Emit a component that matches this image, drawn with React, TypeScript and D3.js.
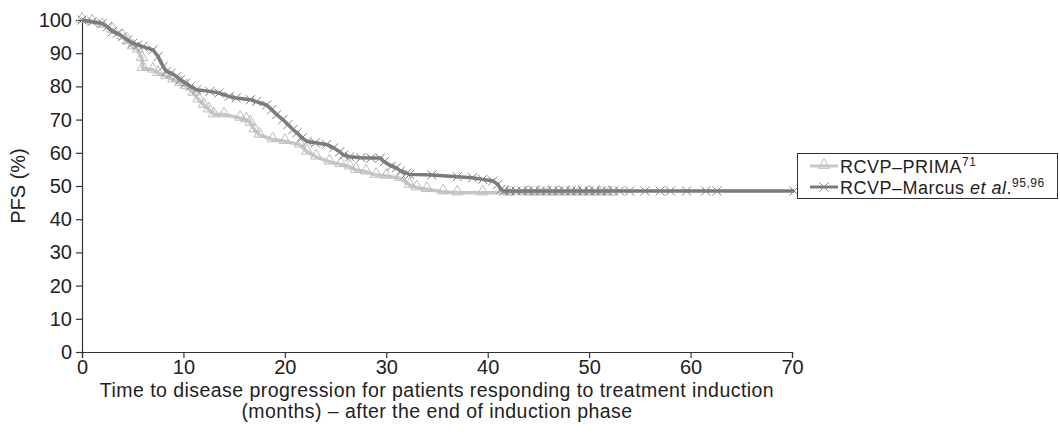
import React, { useEffect, useRef } from 'react';
import * as d3 from 'd3';

// RCVP-PRIMA curve: [month, PFS %]
const primaPoints: [number, number][] = [
  [0, 100], [1, 99.5], [2, 98.5], [3, 97], [4, 95], [4.5, 93.5], [5, 92], [5.5, 91],
  [5.9, 88.5], [6, 85.5], [7, 85], [7.5, 84], [8.3, 83], [9, 82], [9.7, 81], [10.3, 80],
  [11, 78], [11.5, 76], [12, 74.4], [12.5, 73], [13, 71.5], [14, 71.5], [15.6, 70.5],
  [16.2, 70], [16.6, 69], [17, 67], [17.5, 65.4], [18.8, 64], [20, 63.5], [21.5, 62.4],
  [22.2, 60.3], [23.1, 58.8], [24.4, 57.3], [25.5, 56.5], [26.4, 55.8], [27, 54.8],
  [28, 54.3], [29, 53.3], [30, 53], [31.4, 52.3], [32.3, 50.3], [33, 49.5], [34, 49],
  [35.6, 48.3], [37, 48], [39.5, 48], [42, 48], [44, 48], [45, 48], [46, 48], [47, 48],
  [48, 48], [49, 48], [50, 48], [51, 48], [52, 48],
];

// RCVP-Marcus et al. curve: [month, PFS %]
const marcusPoints: [number, number][] = [
  [0, 100], [1, 99.5], [2, 99], [2.5, 98], [3, 96.5], [3.5, 96], [4, 95], [4.5, 94],
  [5, 93], [5.5, 92.5], [6, 92], [7, 91], [7.5, 89], [8, 86], [8.3, 84.5], [8.8, 84],
  [9.3, 83], [9.7, 82], [10.2, 81], [10.7, 80], [11.3, 79], [12.6, 78.5], [13.5, 78],
  [14.5, 77], [15.2, 76.5], [16.6, 76], [17.2, 75.4], [18.2, 74.4], [18.7, 73],
  [19.2, 71.5], [19.8, 70], [20.3, 68.5], [20.8, 67], [21.2, 66], [21.7, 64.5],
  [22.2, 63.4], [23, 63], [24.1, 62.5], [24.8, 61.5], [25.4, 60.3], [25.8, 59.3],
  [26.4, 58.8], [27.5, 58.5], [28.5, 58.4], [29.4, 58.4], [29.8, 57.3], [30.5, 56],
  [31, 55.5], [31.4, 54.5], [32, 53.8], [32.3, 53.5], [34.5, 53.3], [37, 52.8],
  [38.5, 52.5], [39.5, 52], [40.5, 51.5], [41, 50.5], [41.3, 49], [41.6, 48.5],
  [42.2, 48.5], [42.8, 48.5], [43.4, 48.5], [44, 48.5], [44.6, 48.5], [45.2, 48.5],
  [45.8, 48.5], [46.4, 48.5], [47, 48.5], [47.6, 48.5], [48.2, 48.5], [48.8, 48.5],
  [49.4, 48.5], [50, 48.5], [50.6, 48.5], [51.2, 48.5], [51.8, 48.5], [52.4, 48.5],
  [53, 48.5], [54, 48.5], [55.5, 48.5], [57, 48.5], [58, 48.5], [59.6, 48.5],
  [61.5, 48.5], [62.6, 48.5], [70.2, 48.5],
];

const xTicks = [0, 10, 20, 30, 40, 50, 60, 70];
const yTicks = [0, 10, 20, 30, 40, 50, 60, 70, 80, 90, 100];

const FONT = '"Liberation Sans", Arial, sans-serif';
const FS = '20px';

const App: React.FC = () => {
  const svgRef = useRef<SVGSVGElement | null>(null);

  useEffect(() => {
    const svg = d3.select(svgRef.current);
    svg.selectAll('*').remove();

    const x = d3.scaleLinear().domain([0, 70]).range([82, 792]);
    const y = d3.scaleLinear().domain([0, 100]).range([352, 20]);

    const axisColor = '#333';

    // y axis
    const yAxis = svg.append('g').attr('transform', `translate(${x(0)},0)`)
      .call(d3.axisLeft(y).tickValues(yTicks).tickSize(6).tickPadding(4));
    // x axis
    const xAxis = svg.append('g').attr('transform', `translate(0,${y(0)})`)
      .call(d3.axisBottom(x).tickValues(xTicks).tickSize(6).tickPadding(2));

    [yAxis, xAxis].forEach(g => {
      g.select('.domain').attr('stroke', axisColor).attr('stroke-width', 1.2);
      g.selectAll('.tick line').attr('stroke', axisColor).attr('stroke-width', 1.2);
      g.selectAll('.tick text')
        .attr('fill', '#222')
        .style('font-family', FONT)
        .style('font-size', FS);
    });

    const line = d3.line<[number, number]>().x(d => x(d[0])).y(d => y(d[1]));

    const primaColor = '#c6c6c6';
    const marcusColor = '#7a7a7a';

    // PRIMA line + triangle markers
    svg.append('path').datum(primaPoints)
      .attr('d', line).attr('fill', 'none')
      .attr('stroke', primaColor).attr('stroke-width', 3.5);

    const tri = d3.symbol().type(d3.symbolTriangle).size(55);
    svg.append('g').selectAll('path').data(primaPoints).enter().append('path')
      .attr('d', tri)
      .attr('transform', d => `translate(${x(d[0])},${y(d[1]) - 1})`)
      .attr('fill', 'none').attr('stroke', '#bdbdbd').attr('stroke-width', 1);

    // Marcus line + cross markers
    svg.append('path').datum(marcusPoints)
      .attr('d', line).attr('fill', 'none')
      .attr('stroke', marcusColor).attr('stroke-width', 3.5);

    const cross = d3.symbol().type(d3.symbolX).size(55);
    svg.append('g').selectAll('path').data(marcusPoints).enter().append('path')
      .attr('d', cross)
      .attr('transform', d => `translate(${x(d[0])},${y(d[1])})`)
      .attr('fill', 'none').attr('stroke', '#808080').attr('stroke-width', 1);

    // axis titles
    svg.append('text')
      .attr('transform', `translate(25,${y(50)}) rotate(-90)`)
      .attr('text-anchor', 'middle')
      .style('font-family', FONT).style('font-size', FS).attr('fill', '#222')
      .text('PFS (%)');

    const xTitle = svg.append('text')
      .attr('text-anchor', 'middle')
      .style('font-family', FONT).style('font-size', '19.5px')
      .style('letter-spacing', '0.45px').attr('fill', '#222');
    xTitle.append('tspan').attr('x', 437).attr('y', 397)
      .text('Time to disease progression for patients responding to treatment induction');
    xTitle.append('tspan').attr('x', 437).attr('y', 418)
      .text('(months) \u2013 after the end of induction phase');

    // legend
    const lg = svg.append('g');
    lg.append('rect').attr('x', 797.5).attr('y', 153.5).attr('width', 260).attr('height', 45)
      .attr('fill', 'white').attr('stroke', '#333').attr('stroke-width', 1);

    const rows = [
      { color: primaColor, marker: 'tri', yy: 166 },
      { color: marcusColor, marker: 'x', yy: 187 },
    ];
    rows.forEach(r => {
      lg.append('line').attr('x1', 810).attr('x2', 838).attr('y1', r.yy).attr('y2', r.yy)
        .attr('stroke', r.color).attr('stroke-width', 3);
      lg.append('path')
        .attr('d', r.marker === 'tri' ? tri : cross)
        .attr('transform', `translate(824,${r.yy - (r.marker === 'tri' ? 1 : 0)})`)
        .attr('fill', 'none').attr('stroke', r.marker === 'tri' ? '#bdbdbd' : '#808080')
        .attr('stroke-width', 1);
    });

    const legendText = (yy: number) => lg.append('text').attr('x', 840).attr('y', yy)
      .style('font-family', FONT).style('font-size', '18px')
      .style('letter-spacing', '0.5px').attr('fill', '#222');

    const t1 = legendText(172.5);
    t1.append('tspan').text('RCVP\u2013PRIMA');
    t1.append('tspan').attr('dy', -7).style('font-size', '12px').text('71');

    const t2 = legendText(193.5);
    t2.append('tspan').text('RCVP\u2013Marcus ');
    t2.append('tspan').style('font-style', 'italic').text('et al');
    t2.append('tspan').text('.');
    t2.append('tspan').attr('dy', -7).style('font-size', '12px').text('95,96');
  }, []);

  return (
    <svg ref={svgRef} width={1060} height={436}
      style={{ position: 'absolute', left: 0, top: 0, background: 'white' }} />
  );
};

export default App;
